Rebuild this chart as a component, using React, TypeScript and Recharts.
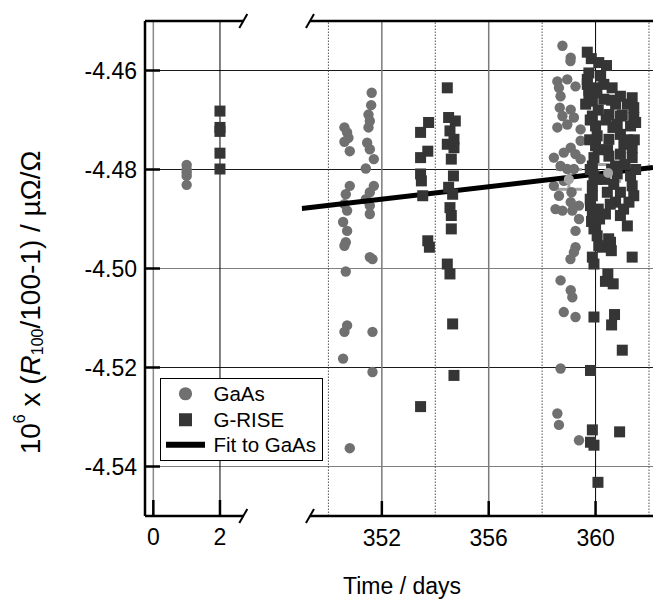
import React from "react";
import {
  ComposedChart, Scatter, XAxis, YAxis, ReferenceLine, ErrorBar, Legend, CartesianGrid,
} from "recharts";

const FONT = "'Liberation Sans', Arial, Helvetica, sans-serif";
const W = 658;
const H = 599;

// [day, 10^6 x (R100/100-1)]
const GAAS_START: [number, number][] = [
  [1, -4.4791], [1, -4.48], [1, -4.4806], [1, -4.4813], [1, -4.4831],
];
const GRISE_START: [number, number][] = [
  [2, -4.4682], [2, -4.4715], [2, -4.4723], [2, -4.4767], [2, -4.4799],
];
const GAAS_351: [number, number][] = [
  [350.6, -4.4715], [350.7, -4.4725], [350.75, -4.4736], [350.6, -4.4744], [350.8, -4.4763],
  [350.8, -4.4833], [350.65, -4.485], [350.6, -4.487], [350.7, -4.4883], [350.55, -4.4906],
  [350.7, -4.4924], [350.65, -4.4947], [350.6, -4.4954], [350.65, -4.5006], [350.7, -4.5115],
  [350.6, -4.5128], [350.55, -4.5182], [350.8, -4.5363],
  [351.62, -4.4645], [351.6, -4.467], [351.5, -4.4689], [351.55, -4.4702], [351.5, -4.4715],
  [351.45, -4.4746], [351.55, -4.4759], [351.7, -4.4779], [351.4, -4.4798], [351.7, -4.4833],
  [351.55, -4.4846], [351.4, -4.486], [351.55, -4.4873], [351.55, -4.489], [351.55, -4.4977],
  [351.65, -4.4981], [351.65, -4.5128], [351.65, -4.5209],
];
const GAAS_359: [number, number][] = [
  [358.76, -4.455], [359.07, -4.4574], [359.06, -4.4581], [358.57, -4.4622], [358.94, -4.4618],
  [359.25, -4.4632], [358.63, -4.4635], [358.69, -4.4652], [358.66, -4.4675], [359.07, -4.4679],
  [358.76, -4.4692], [359.19, -4.4695], [358.57, -4.4715], [358.94, -4.4709], [359.44, -4.4719],
  [359.44, -4.4742], [359.07, -4.4756], [358.81, -4.4766], [359.25, -4.4769], [358.44, -4.4776],
  [359.44, -4.4779], [358.69, -4.4793], [358.94, -4.4799], [359.19, -4.4799], [358.81, -4.4823],
  [358.44, -4.4833], [358.63, -4.4853], [359.1, -4.4846], [358.5, -4.488], [359.07, -4.4866],
  [359.38, -4.4873], [358.76, -4.4883], [359.13, -4.4883], [359.38, -4.49], [359.25, -4.4924],
  [359.25, -4.4957], [359.19, -4.4967], [359.06, -4.4981], [358.69, -4.5024], [359.07, -4.5044],
  [359.13, -4.5058], [358.81, -4.5088], [359.25, -4.5098], [358.69, -4.5202], [358.57, -4.5293],
  [358.63, -4.5316], [359.38, -4.5347],
];
const GRISE_354: [number, number][] = [
  [353.75, -4.4705], [353.45, -4.4725], [353.72, -4.4763], [353.45, -4.4776], [353.45, -4.4809],
  [353.48, -4.4823], [353.53, -4.4853], [353.72, -4.4944], [353.78, -4.4957], [353.45, -4.5279],
  [354.45, -4.4635], [354.5, -4.4695], [354.75, -4.4702], [354.55, -4.4722], [354.7, -4.4739],
  [354.45, -4.4749], [354.7, -4.4756], [354.6, -4.4779], [354.68, -4.4813], [354.5, -4.4836],
  [354.65, -4.485], [354.55, -4.4877], [354.6, -4.4893], [354.6, -4.492], [354.45, -4.4991],
  [354.55, -4.5011], [354.65, -4.5112], [354.7, -4.5216],
];
const GRISE_360: [number, number][] = [
  [359.69, -4.4563], [359.84, -4.4576], [360.12, -4.4584], [360.41, -4.459], [359.75, -4.4605],
  [360.19, -4.4611], [359.69, -4.4618], [359.69, -4.4628], [359.94, -4.4635], [360.31, -4.4628],
  [360.62, -4.4635], [359.75, -4.4648], [360.93, -4.4652], [361.37, -4.4655], [361.43, -4.4675],
  [361.19, -4.4668], [360.75, -4.4668], [360.31, -4.4658], [359.88, -4.4662], [359.63, -4.4668],
  [359.88, -4.4692], [360.5, -4.4689], [360.93, -4.4692], [361.43, -4.4695], [360.0, -4.4712],
  [360.81, -4.4709], [361.31, -4.4712], [361.5, -4.4705], [360.06, -4.4732], [360.5, -4.4739],
  [360.93, -4.4729], [361.06, -4.4749], [361.37, -4.4756], [360.0, -4.4752], [359.94, -4.4776],
  [360.5, -4.4773], [360.93, -4.4769], [361.37, -4.4776], [359.88, -4.4793], [360.75, -4.4793],
  [359.94, -4.4813], [360.81, -4.4809], [361.31, -4.4813], [359.88, -4.4833], [360.68, -4.483],
  [361.37, -4.4833], [359.88, -4.4853], [360.44, -4.4846], [360.93, -4.4846], [361.43, -4.4853],
  [359.81, -4.4873], [360.75, -4.4866], [361.25, -4.4866], [359.88, -4.4893], [360.37, -4.489],
  [360.93, -4.4893], [360.0, -4.4914], [361.19, -4.4914], [359.94, -4.492], [360.06, -4.4934],
  [360.56, -4.4947], [360.25, -4.4957],
  [359.75, -4.464], [360.05, -4.4645], [359.8, -4.47], [360.1, -4.468], [359.78, -4.474],
  [360.1, -4.476], [359.8, -4.48], [360.05, -4.482], [359.8, -4.486], [360.1, -4.488],
  [359.85, -4.4905], [360.15, -4.49], [360.6, -4.466], [360.65, -4.4715], [361.0, -4.469],
  [361.1, -4.479], [360.6, -4.48], [361.05, -4.488], [360.55, -4.487], [361.2, -4.474],
  [360.4, -4.47], [360.45, -4.476], [360.35, -4.482], [361.5, -4.48], [361.45, -4.474],
  [360.12, -4.4954], [360.49, -4.494], [360.59, -4.4964], [361.37, -4.4977], [359.88, -4.4977],
  [359.94, -4.4991], [360.46, -4.5011], [360.37, -4.5026], [360.66, -4.5031], [359.94, -4.5098],
  [360.71, -4.5093], [360.6, -4.5114], [361.0, -4.5165], [359.81, -4.5206], [359.88, -4.5326],
  [360.9, -4.533], [359.81, -4.5351], [359.94, -4.5357], [360.09, -4.5432],
];
// [day, mean, error]
const GAAS_MEANS: [number, number, number][] = [
  [359.0, -4.482, 0.002], [360.47, -4.4807, 0.0017],
];
const FIT_GAAS: [number, number][] = [[349, -4.4879], [362.15, -4.4796]];

const Y_TICKS = [-4.54, -4.52, -4.5, -4.48, -4.46];
const Y_GRID_DARK = [-4.52, -4.48, -4.46];
const Y_GRID_GREY = [-4.54, -4.5];
const X_TICKS_START = [0, 2];
const X_TICKS_MAIN = [352, 356, 360];
const X_MINOR_MAIN = [350, 354, 358, 362];

const Y_DOMAIN: [number, number] = [-4.55, -4.45];
const X_DOMAIN_START: [number, number] = [-0.25, 2.7];
const X_DOMAIN_MAIN: [number, number] = [349, 362.15];
const MAIN_AXIS_START = 349.31;

const toPts = (arr: [number, number][]) => arr.map(([x, y]) => ({ x, y }));

const circle = (fill: string, r: number) => (p: any) =>
  <circle cx={p.cx} cy={p.cy} r={r} fill={fill} />;
const square = (fill: string, s: number) => (p: any) =>
  <rect x={p.cx - s / 2} y={p.cy - s / 2} width={s} height={s} fill={fill} />;

const GAAS_COLOR = "#707070";
const GRISE_COLOR = "#353535";
const MEAN_COLOR = "#a2a2a2";

const tickText = { fill: "#000", fontSize: 23, fontFamily: FONT };
const tickStroke = { stroke: "#000", strokeWidth: 2.5 };

function YTitle({ viewBox }: any) {
  const cx = viewBox.x + 30;
  const cy = viewBox.y + viewBox.height / 2 + 34;
  return (
    <text x={cx} y={cy} transform={`rotate(-90, ${cx}, ${cy})`} textAnchor="middle"
      dominantBaseline="central" fontSize={28} fontFamily={FONT} fill="#000">
      10<tspan dy={-11} fontSize={16}>6</tspan>
      <tspan dy={11}> x (</tspan>
      <tspan fontStyle="italic">R</tspan>
      <tspan dy={7} fontSize={16}>100</tspan>
      <tspan dy={-7}>/100-1) / µΩ/Ω</tspan>
    </text>
  );
}

function XTitle({ viewBox }: any) {
  return (
    <text x={viewBox.x + viewBox.width / 2 + 3} y={viewBox.y + 77} textAnchor="middle"
      fontSize={23} fontFamily={FONT} fill="#000">Time / days</text>
  );
}

const LEGEND_ORDER = ["GaAs", "G-RISE", "Fit to GaAs"];

function legendIcon(name: string) {
  if (name === "GaAs") return <circle cx={24.5} cy={12.75} r={6.6} fill={GAAS_COLOR} />;
  if (name === "G-RISE") return <rect x={18} y={6.25} width={13} height={13} fill={GRISE_COLOR} />;
  return <line x1={5} x2={44} y1={12.75} y2={12.75} stroke="#000" strokeWidth={6} />;
}

function LegendBox({ payload }: any) {
  const items = LEGEND_ORDER.filter((n) => (payload || []).some((p: any) => p.value === n));
  return (
    <div style={{
      boxSizing: "border-box", width: 163, height: 83, border: "1.5px solid #000",
      background: "#fff", paddingTop: 2, fontFamily: FONT, fontSize: 20.5, color: "#000",
    }}>
      {items.map((n) => (
        <div key={n} style={{ display: "flex", alignItems: "center", height: 25.5 }}>
          <svg width={52.5} height={25.5} style={{ flex: "none" }}>{legendIcon(n)}</svg>
          <span style={{ lineHeight: "25.5px", whiteSpace: "nowrap" }}>{n}</span>
        </div>
      ))}
    </div>
  );
}

function breakMark(axis: string, x: number, y: number, dx: number, key: string) {
  return (
    <ReferenceLine key={key} xAxisId={axis} yAxisId="y" ifOverflow="visible" stroke="#000" strokeWidth={2}
      segment={[{ x: x - dx, y: y - 0.0014 }, { x: x + dx, y: y + 0.0014 }]} />
  );
}

function frameLine(axis: string, x0: number, x1: number, y: number, key: string) {
  return (
    <ReferenceLine key={key} xAxisId={axis} yAxisId="y" ifOverflow="visible" stroke="#000" strokeWidth={2.5}
      segment={[{ x: x0, y }, { x: x1, y }]} />
  );
}

export default function App() {
  return (
    <div style={{ position: "absolute", left: 0, top: 0, width: W, height: H, background: "#fff" }}>
      <ComposedChart width={W} height={H} margin={{ top: 21, right: 0, bottom: 80, left: 0 }}>
        <XAxis xAxisId="L" type="number" dataKey="x" domain={X_DOMAIN_START} allowDataOverflow
          ticks={X_TICKS_START} interval={0} height={1} padding={{ left: 0, right: 409.7 }}
          tickSize={-16} tickMargin={28.5} tick={tickText} tickLine={tickStroke} axisLine={false} />
        <XAxis xAxisId="R" type="number" dataKey="x" domain={X_DOMAIN_MAIN} allowDataOverflow
          ticks={X_TICKS_MAIN} interval={0} height={1} padding={{ left: 156.7, right: 0 }}
          tickSize={-16} tickMargin={28.5} tick={tickText} tickLine={tickStroke} axisLine={false}
          label={(p: any) => <XTitle {...p} />} />
        <XAxis xAxisId="Rm" type="number" dataKey="x" domain={X_DOMAIN_MAIN} allowDataOverflow
          ticks={X_MINOR_MAIN} interval={0} height={1} padding={{ left: 156.7, right: 0 }}
          tickSize={-9} tick={false} tickLine={tickStroke} axisLine={false} />
        <XAxis xAxisId="LT" orientation="top" type="number" dataKey="x" domain={X_DOMAIN_START} allowDataOverflow
          ticks={X_TICKS_START} interval={0} height={0} padding={{ left: 0, right: 409.7 }}
          tickSize={-15} tick={false} tickLine={tickStroke} axisLine={false} />
        <XAxis xAxisId="RT" orientation="top" type="number" dataKey="x" domain={X_DOMAIN_MAIN} allowDataOverflow
          ticks={X_TICKS_MAIN} interval={0} height={0} padding={{ left: 156.7, right: 0 }}
          tickSize={-15} tick={false} tickLine={tickStroke} axisLine={false} />
        <XAxis xAxisId="RmT" orientation="top" type="number" dataKey="x" domain={X_DOMAIN_MAIN} allowDataOverflow
          ticks={X_MINOR_MAIN} interval={0} height={0} padding={{ left: 156.7, right: 0 }}
          tickSize={-8} tick={false} tickLine={tickStroke} axisLine={false} />
        <YAxis yAxisId="y" type="number" dataKey="y" domain={Y_DOMAIN} allowDataOverflow
          ticks={Y_TICKS} interval={0} width={145} tickSize={-15} tickMargin={23}
          tickFormatter={(v: number) => v.toFixed(2)} tick={tickText} tickLine={tickStroke}
          axisLine={{ stroke: "#000", strokeWidth: 2.5 }} label={(p: any) => <YTitle {...p} />} />
        <YAxis yAxisId="yr" orientation="right" type="number" domain={Y_DOMAIN} allowDataOverflow
          ticks={Y_TICKS} interval={0} width={5} tickSize={-12} tick={false} tickLine={tickStroke}
          axisLine={false} />

        <CartesianGrid xAxisId="R" yAxisId="y" vertical={false} horizontalValues={Y_GRID_DARK}
          stroke="#1a1a1a" strokeWidth={1.2} />
        <CartesianGrid xAxisId="R" yAxisId="y" vertical={false} horizontalValues={Y_GRID_GREY}
          stroke="#808080" strokeWidth={1.2} />
        <ReferenceLine xAxisId="L" yAxisId="y" x={0} stroke="#8a8a8a" strokeWidth={1.5} />
        <ReferenceLine xAxisId="L" yAxisId="y" x={2} stroke="#000" strokeWidth={1} />
        {X_TICKS_MAIN.map((v) => (
          <ReferenceLine key={`v${v}`} xAxisId="R" yAxisId="y" x={v}
            stroke={v === 360 ? "#000" : "#7a7a7a"} strokeWidth={v === 360 ? 1 : 1.5} />
        ))}
        {X_MINOR_MAIN.map((v) => (
          <ReferenceLine key={`m${v}`} xAxisId="R" yAxisId="y" x={v} stroke="#555" strokeWidth={1}
            strokeDasharray="1.5 1.5" />
        ))}

        {frameLine("L", X_DOMAIN_START[0], X_DOMAIN_START[1], Y_DOMAIN[1], "ft1")}
        {frameLine("L", X_DOMAIN_START[0], X_DOMAIN_START[1], Y_DOMAIN[0], "fb1")}
        {frameLine("R", MAIN_AXIS_START, X_DOMAIN_MAIN[1], Y_DOMAIN[1], "ft2")}
        {frameLine("R", MAIN_AXIS_START, X_DOMAIN_MAIN[1], Y_DOMAIN[0], "fb2")}
        {breakMark("L", X_DOMAIN_START[1], Y_DOMAIN[1], 0.12, "b1")}
        {breakMark("L", X_DOMAIN_START[1], Y_DOMAIN[0], 0.12, "b2")}
        {breakMark("R", MAIN_AXIS_START, Y_DOMAIN[1], 0.15, "b3")}
        {breakMark("R", MAIN_AXIS_START, Y_DOMAIN[0], 0.15, "b4")}

        <Scatter name="GaAs" data={toPts([...GAAS_351, ...GAAS_359])} xAxisId="R" yAxisId="y"
          fill={GAAS_COLOR} shape={circle(GAAS_COLOR, 5.2)} isAnimationActive={false} />
        <Scatter name="GaAs start" data={toPts(GAAS_START)} xAxisId="L" yAxisId="y" legendType="none"
          fill={GAAS_COLOR} shape={circle(GAAS_COLOR, 5.2)} isAnimationActive={false} />
        <Scatter name="Fit to GaAs" data={toPts(FIT_GAAS)} xAxisId="R" yAxisId="y" legendType="line"
          fill="#000" line={{ stroke: "#000", strokeWidth: 5 }} shape={() => <g />} isAnimationActive={false} />
        <Scatter name="G-RISE" data={toPts([...GRISE_354, ...GRISE_360])} xAxisId="R" yAxisId="y"
          fill={GRISE_COLOR} shape={square(GRISE_COLOR, 11)} isAnimationActive={false} />
        <Scatter name="G-RISE start" data={toPts(GRISE_START)} xAxisId="L" yAxisId="y" legendType="none"
          fill={GRISE_COLOR} shape={square(GRISE_COLOR, 11)} isAnimationActive={false} />
        <Scatter name="GaAs mean" data={GAAS_MEANS.map(([x, y, e]) => ({ x, y, e }))} xAxisId="R" yAxisId="y"
          legendType="none" fill={MEAN_COLOR} shape={circle(MEAN_COLOR, 5)} isAnimationActive={false}>
          <ErrorBar dataKey="e" direction="y" width={13} stroke={MEAN_COLOR} strokeWidth={3} isAnimationActive={false} />
        </Scatter>

        <Legend layout="vertical" align="center" verticalAlign="middle" content={(p: any) => <LegendBox {...p} />}
          wrapperStyle={{ left: 160, top: 378, width: 163, height: 83 }} />
      </ComposedChart>
    </div>
  );
}
